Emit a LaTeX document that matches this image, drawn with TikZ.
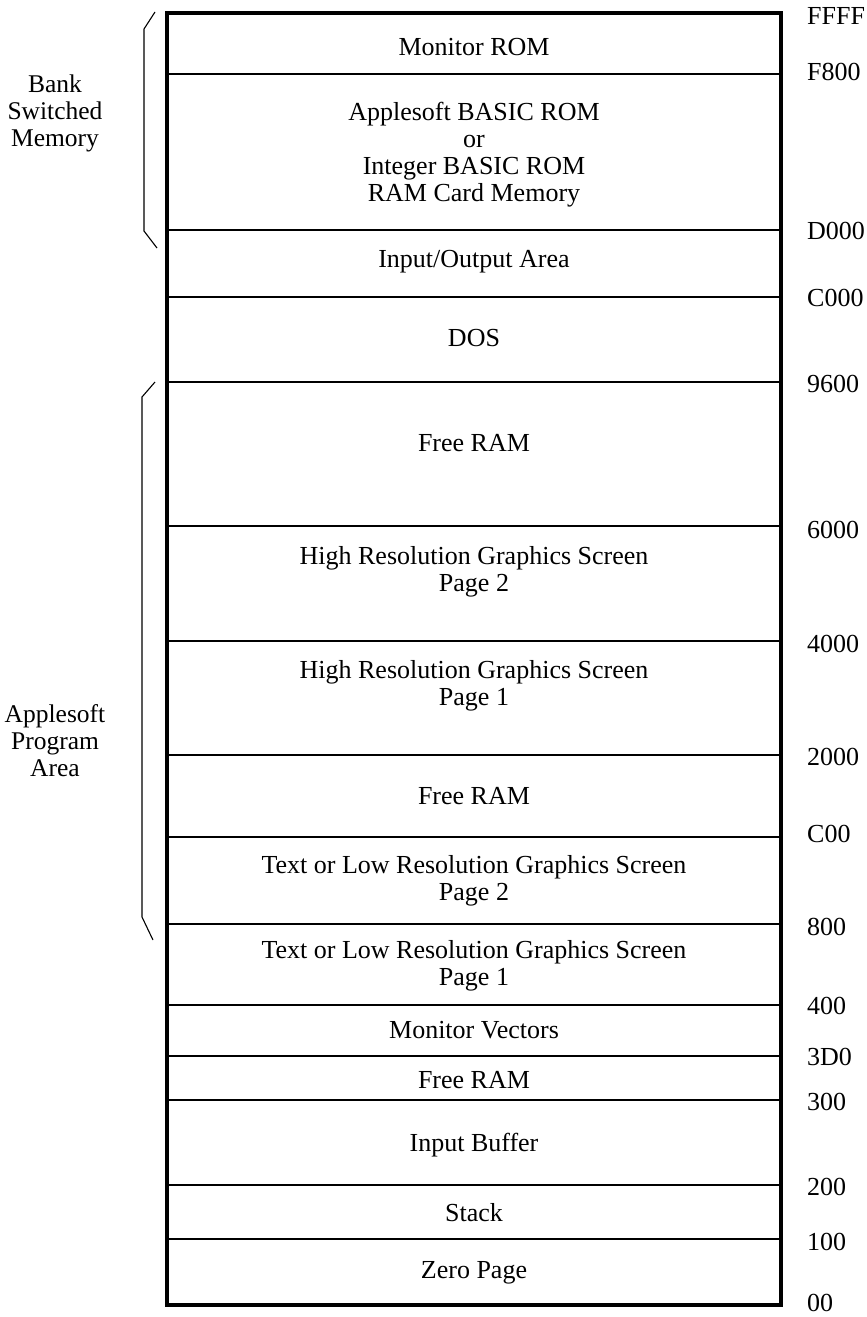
\documentclass[tikz,border=0pt]{standalone}
\usepackage{fontspec}
\setmainfont{Liberation Serif}
\begin{document}
\begin{tikzpicture}[x=1pt,y=-1pt,
  region/.style={align=center,font=\fontsize{26}{27}\selectfont,inner sep=0pt},
  addr/.style={anchor=west,font=\fontsize{26}{27}\selectfont,inner sep=0pt},
  side/.style={align=center,font=\fontsize{25.5}{27}\selectfont,inner sep=0pt},
  divider/.style={line width=1.3pt},
  outer/.style={line width=4pt},
  brace/.style={line width=1.1pt}]
\useasboundingbox (0,0) rectangle (867,1317);
% outer box
\draw[outer] (167,13) rectangle (781,1305);
% dividers
\foreach \yy in {74,230,297,382,526,641,755,837,924,1005,1056,1100,1185,1239}
  \draw[divider] (169,\yy) -- (779,\yy);
% region texts
\node[region] (mrom) at (474,47) {Monitor ROM};
\node[region] (basic) at (474,155) {Applesoft BASIC ROM\\or\\Integer BASIC ROM\\RAM Card Memory};
\node[region] (io) at (474,262) {Input/Output Area};
\node[region] (dos) at (474,338) {DOS};
\node[region] (free1) at (474,443) {Free RAM};
\node[region] (hr2) at (474,572) {High Resolution Graphics Screen\\Page 2};
\node[region] (hr1) at (474,686) {High Resolution Graphics Screen\\Page 1};
\node[region] (free2) at (474,796) {Free RAM};
\node[region] (lr2) at (474,881) {Text or Low Resolution Graphics Screen\\Page 2};
\node[region] (lr1) at (474,966) {Text or Low Resolution Graphics Screen\\Page 1};
\node[region] (mv) at (474,1030) {Monitor Vectors};
\node[region] (free3) at (474,1080) {Free RAM};
\node[region] (ib) at (474,1145) {Input Buffer};
\node[region] (stk) at (474,1213) {Stack};
\node[region] (zp) at (474,1273) {Zero Page};
% address labels
\node[addr] (aFFFF) at (807,16) {FFFF};
\node[addr] (aF800) at (807,72) {F800};
\node[addr] (aD000) at (807,231) {D000};
\node[addr] (aC000) at (807,298) {C000};
\node[addr] (a9600) at (807,384) {9600};
\node[addr] (a6000) at (807,530) {6000};
\node[addr] (a4000) at (807,644) {4000};
\node[addr] (a2000) at (807,757) {2000};
\node[addr] (aC00) at (807,834) {C00};
\node[addr] (a800) at (807,927) {800};
\node[addr] (a400) at (807,1006) {400};
\node[addr] (a3D0) at (807,1057) {3D0};
\node[addr] (a300) at (807,1102) {300};
\node[addr] (a200) at (807,1187) {200};
\node[addr] (a100) at (807,1242) {100};
\node[addr] (a00) at (807,1303) {00};
% side labels
\node[side] (bank) at (55,113) {Bank\\Switched\\Memory};
\node[side] (prog) at (55,741) {Applesoft\\Program\\Area};
% brackets
\draw[brace] (155,12) -- (144,29) -- (144,231) -- (157,248);
\draw[brace] (155,382) -- (142,397) -- (142,917) -- (153,940);
\end{tikzpicture}
\end{document}
